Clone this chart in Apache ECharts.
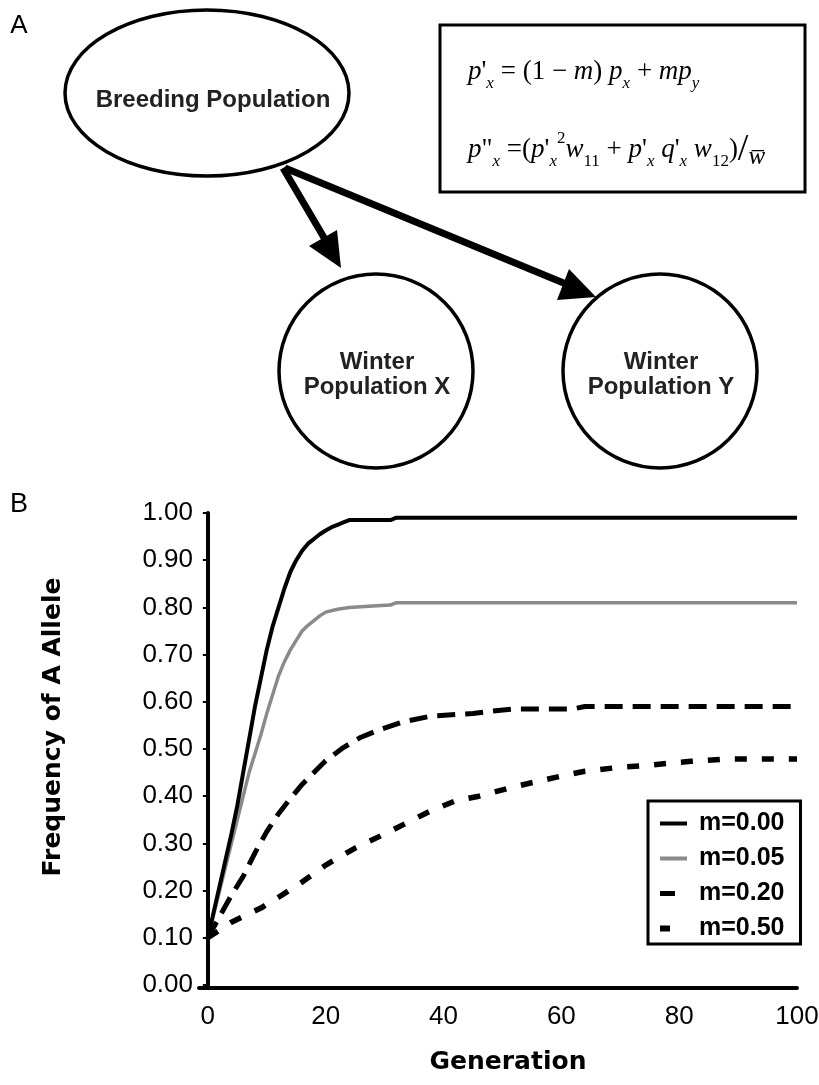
<!DOCTYPE html>
<html>
<head>
<meta charset="utf-8">
<script src="https://cdn.jsdelivr.net/npm/echarts@6/dist/echarts.min.js"></script>
<style>
  html, body { margin: 0; padding: 0; background: #fff; }
  #main { width: 819px; height: 1085px; }
</style>
</head>
<body>
<div id="main"></div>
<script>
// values (generation -> frequency of A allele)
const seriesNames = ['m=0.00', 'm=0.05', 'm=0.20', 'm=0.50'];
const xTickValues = [0, 20, 40, 60, 80, 100];

const gen000 = [0, 1, 2, 3, 4, 5, 6, 7, 8, 9, 10, 11, 12, 13, 14, 15, 16, 17, 18, 19, 20, 21, 22, 23, 24, 31, 32, 100];
const freq000 = [0.10, 0.155, 0.21, 0.265, 0.32, 0.38, 0.45, 0.52, 0.59, 0.65, 0.71, 0.76, 0.80, 0.84, 0.875, 0.90, 0.92, 0.935, 0.945, 0.955, 0.963, 0.97, 0.975, 0.98, 0.985, 0.985, 0.99, 0.99];

const gen005 = [0, 2, 4, 5, 6, 7, 8, 9, 10, 11, 12, 13, 14, 15, 16, 17, 18, 19, 20, 22, 24, 28, 31, 32, 100];
const freq005 = [0.10, 0.20, 0.30, 0.35, 0.40, 0.45, 0.49, 0.53, 0.575, 0.615, 0.655, 0.685, 0.71, 0.73, 0.75, 0.762, 0.772, 0.782, 0.79, 0.796, 0.80, 0.803, 0.805, 0.81, 0.81];

const gen020 = [0, 2, 4, 6, 8, 10, 12, 14, 16, 18, 20, 23, 26, 29, 33, 38, 45, 48, 52, 62, 64, 100];
const freq020 = [0.10, 0.145, 0.19, 0.23, 0.28, 0.325, 0.363, 0.395, 0.425, 0.45, 0.475, 0.503, 0.525, 0.54, 0.557, 0.57, 0.575, 0.58, 0.585, 0.585, 0.59, 0.59];

const gen050 = [0, 4, 9, 12, 16, 20, 25, 30, 34, 38, 42, 46, 52, 59, 64, 69, 75, 82, 89, 100];
const freq050 = [0.10, 0.133, 0.163, 0.186, 0.218, 0.254, 0.29, 0.32, 0.345, 0.37, 0.39, 0.40, 0.42, 0.44, 0.453, 0.46, 0.466, 0.474, 0.479, 0.479];

const toPairs = (xs, ys) => xs.map((x, i) => [x, ys[i]]);

const chart = echarts.init(document.getElementById('main'));

const sans = '"Liberation Sans", Arial, sans-serif';
const heavy = '"DejaVu Sans", sans-serif';
const serif = '"Liberation Serif", "Times New Roman", serif';

const eqRich = {
  i: { fontFamily: serif, fontStyle: 'italic', fontSize: 27, lineHeight: 40, color: '#000' },
  r: { fontFamily: serif, fontSize: 27, lineHeight: 40, color: '#000' },
  s: { fontFamily: serif, fontStyle: 'italic', fontSize: 17, lineHeight: 17, verticalAlign: 'bottom', color: '#000' },
  n: { fontFamily: serif, fontSize: 17, lineHeight: 17, verticalAlign: 'bottom', color: '#000' },
  u: { fontFamily: serif, fontSize: 17, lineHeight: 17, verticalAlign: 'top', color: '#000' },
  sl: { fontFamily: serif, fontSize: 38, lineHeight: 40, color: '#000' },
  wb: { fontFamily: serif, fontStyle: 'italic', fontSize: 25, lineHeight: 25, verticalAlign: 'bottom', color: '#000' }
};

const eq1 = '{i|p}{r|\'}{s|x}{r| = (1 \u2212 }{i|m}{r|) }{i|p}{s|x}{r| + }{i|mp}{s|y}';
const eq2 = '{i|p}{r|"}{s|x}{r| =(}{i|p}{r|\'}{s|x}{u|2}{i|w}{n|11}{r| + }{i|p}{r|\'}{s|x}{r| }{i|q}{r|\'}{s|x}{r| }{i|w}{n|12}{r|)}{sl|/}{wb|w\u0305}';

const txt = (x, y, text, font, extra) => ({
  type: 'text', x: x, y: y, silent: true,
  style: Object.assign({
    text: text, font: font, fill: '#000',
    textAlign: 'center', align: 'center',
    textVerticalAlign: 'middle', verticalAlign: 'middle'
  }, extra || {})
});

const stroke = { fill: 'none', stroke: '#000', lineWidth: 3.5 };

chart.setOption({
  animation: false,
  backgroundColor: '#fff',
  graphic: [
    txt(19, 26, 'A', '26px ' + sans),
    txt(19, 505, 'B', '27px ' + sans),
    { type: 'ellipse', shape: { cx: 207, cy: 93, rx: 142, ry: 83 }, style: stroke },
    txt(213, 100, 'Breeding Population', 'bold 24px ' + sans, { fill: '#222' }),
    { type: 'circle', shape: { cx: 376, cy: 371, r: 97 }, style: stroke },
    { type: 'circle', shape: { cx: 660, cy: 371, r: 97 }, style: stroke },
    txt(377, 375, 'Winter\nPopulation X', 'bold 24px ' + sans, { fill: '#222', lineHeight: 25 }),
    txt(661, 375, 'Winter\nPopulation Y', 'bold 24px ' + sans, { fill: '#222', lineHeight: 25 }),
    { type: 'line', shape: { x1: 283, y1: 168, x2: 326, y2: 241 }, style: { stroke: '#000', lineWidth: 7 } },
    { type: 'polygon', shape: { points: [[341, 268], [309, 246], [337, 230]] }, style: { fill: '#000' } },
    { type: 'line', shape: { x1: 285, y1: 168, x2: 566, y2: 284 }, style: { stroke: '#000', lineWidth: 7 } },
    { type: 'polygon', shape: { points: [[596, 297], [557, 300], [569, 269]] }, style: { fill: '#000' } },
    { type: 'rect', shape: { x: 440, y: 25, width: 365, height: 167 }, style: { fill: 'none', stroke: '#000', lineWidth: 3 } },
    txt(468, 72, eq1, null, { rich: eqRich, textAlign: 'left', align: 'left' }),
    txt(468, 150, eq2, null, { rich: eqRich, textAlign: 'left', align: 'left' })
  ],
  grid: { left: 199, right: 22, top: 513, bottom: 100, outerBoundsMode: 'none' },
  legend: {
    orient: 'vertical',
    left: 648,
    top: 801,
    selectedMode: false,
    data: [
      { name: seriesNames[0], lineStyle: { width: 4, type: 'solid' } },
      { name: seriesNames[1], lineStyle: { width: 4, type: 'solid' } },
      { name: seriesNames[2], lineStyle: { width: 5, type: [15, 40] } },
      { name: seriesNames[3], lineStyle: { width: 6, type: [10, 40] } }
    ],
    itemWidth: 27,
    itemHeight: 10,
    itemGap: 10,
    itemStyle: { opacity: 0 },
    borderColor: '#000',
    borderWidth: 3,
    borderRadius: 0,
    backgroundColor: '#fff',
    padding: [10, 16, 3, 9],
    textStyle: { fontSize: 25, fontWeight: 'bold', color: '#000', fontFamily: sans, padding: [0, 0, 0, 7] }
  },
  xAxis: {
    type: 'value',
    min: -1.5,
    max: 100,
    offset: 3,
    axisLine: { onZero: false, lineStyle: { color: '#000', width: 4 } },
    axisTick: { show: false },
    splitLine: { show: false },
    axisLabel: { customValues: xTickValues, fontSize: 26, color: '#000', fontFamily: sans, margin: 16 },
    name: 'Generation',
    nameLocation: 'middle',
    nameGap: 62,
    nameTextStyle: { fontFamily: heavy, fontWeight: 'bold', fontSize: 25, color: '#000', padding: [0, 0, 0, 20] }
  },
  yAxis: {
    type: 'value',
    min: 0,
    max: 1,
    interval: 0.1,
    axisLine: { show: true, lineStyle: { color: '#000', width: 4 } },
    axisTick: { show: true, length: 5, lineStyle: { color: '#000', width: 2 } },
    splitLine: { show: false },
    axisLabel: { formatter: (v) => v.toFixed(2), fontSize: 26, color: '#000', fontFamily: sans, margin: 6 },
    name: 'Frequency of A Allele',
    nameLocation: 'middle',
    nameGap: 133,
    nameRotate: 90,
    nameTextStyle: { fontFamily: heavy, fontWeight: 'bold', fontSize: 25, color: '#000', padding: [0, 0, 0, 44] }
  },
  series: [
    {
      name: seriesNames[1], type: 'line', data: toPairs(gen005, freq005),
      symbol: 'none', color: '#8a8a8a', lineStyle: { color: '#8a8a8a', width: 3.5 }
    },
    {
      name: seriesNames[0], type: 'line', data: toPairs(gen000, freq000),
      symbol: 'none', color: '#000', lineStyle: { color: '#000', width: 4 }
    },
    {
      name: seriesNames[2], type: 'line', data: toPairs(gen020, freq020),
      symbol: 'none', color: '#000', lineStyle: { color: '#000', width: 5, type: [18, 10] }
    },
    {
      name: seriesNames[3], type: 'line', data: toPairs(gen050, freq050),
      symbol: 'none', color: '#000', lineStyle: { color: '#000', width: 5.5, type: [12, 15] }
    }
  ]
});
</script>
</body>
</html>
